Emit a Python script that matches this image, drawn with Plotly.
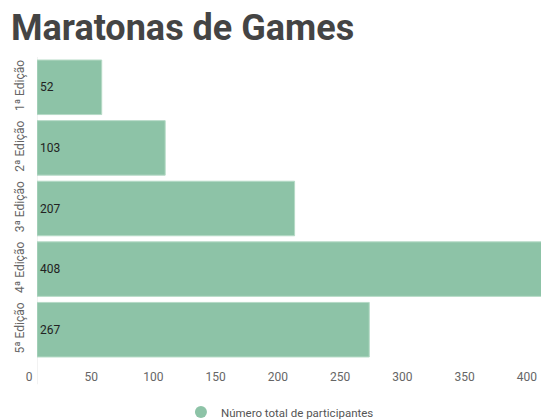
import plotly.graph_objects as go

categories = ["1ª Edição", "2ª Edição", "3ª Edição", "4ª Edição", "5ª Edição"]
participants = [52, 103, 207, 408, 267]
x_ticks = [0, 50, 100, 150, 200, 250, 300, 350, 400]
series_name = "Número total de participantes"
title_text = "Maratonas de Games"

bar_color = "#8dc3a7"

fig = go.Figure()
fig.add_trace(go.Bar(
    y=categories,
    x=participants,
    orientation="h",
    marker=dict(color=bar_color, line=dict(color="#b5dac6", width=1)),
    text=[str(v) for v in participants],
    textposition="inside",
    insidetextanchor="start",
    textfont=dict(family="Roboto", size=12, color="#222222"),
    showlegend=False,
    cliponaxis=True,
))
fig.add_trace(go.Scatter(
    x=[None], y=[None], mode="markers",
    marker=dict(color=bar_color, size=15, symbol="circle"),
    name=series_name, showlegend=True,
))

fig.add_shape(type="line", xref="x", yref="y domain", x0=0, x1=0, y0=-0.08, y1=1.0,
              line=dict(color="#e6e6e6", width=1), layer="below")

fig.update_layout(
    width=541, height=419,
    margin=dict(l=37, r=0, t=57, b=59, autoexpand=False),
    paper_bgcolor="white", plot_bgcolor="white",
    font=dict(family="Roboto", color="#666666", size=12),
    title=dict(text="<b>" + title_text + "</b>", font=dict(family="Roboto", size=36, color="#444444"),
               xref="container", x=11/541, xanchor="left",
               yref="container", y=1 - 27/419, yanchor="middle"),
    bargap=0.1,
    showlegend=True,
    legend=dict(orientation="h", x=0.482, xanchor="center",
                yref="container", y=1 - 412/419, yanchor="middle",
                font=dict(size=11.5, color="#555555"), itemsizing="constant"),
    xaxis=dict(range=[0, 405], tickvals=x_ticks, showgrid=False, zeroline=False,
               showline=False, ticks="", ticklabelshift=-8, ticklabelstandoff=8,
               tickfont=dict(size=12, color="#666666"), fixedrange=True),
    yaxis=dict(categoryorder="array", categoryarray=categories[::-1], autorange=True,
               showgrid=False, zeroline=False, showline=False, ticks="",
               tickangle=-90, ticklabelstandoff=10,
               tickfont=dict(size=12, color="#666666")),
)

fig.write_html("out.html")
